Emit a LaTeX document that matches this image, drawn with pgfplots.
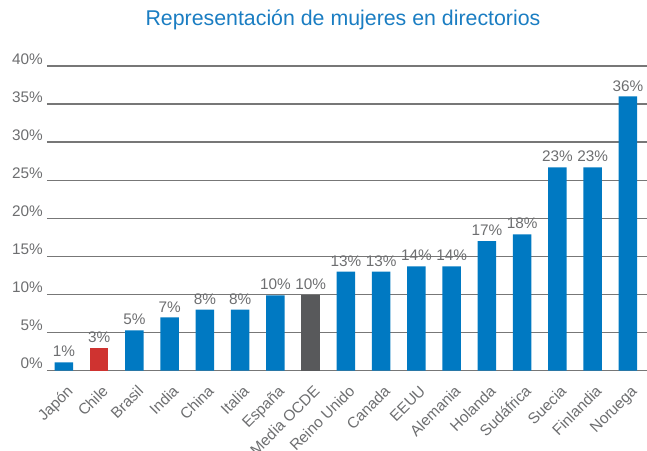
\documentclass[border=0pt]{standalone}
\usepackage{pgfplots}
\pgfplotsset{compat=1.18}
\usepackage{pgfplotstable}
\usepackage{fontspec}
\setmainfont{Liberation Sans}
\definecolor{barblue}{HTML}{0079C2}
\definecolor{barred}{HTML}{CF3330}
\definecolor{bargray}{HTML}{58595B}
\definecolor{textgray}{HTML}{6D6E70}
\definecolor{gridgray}{HTML}{777777}
\definecolor{titleblue}{HTML}{1A7DC2}

\pgfplotstableread{
x y lab
0 1.1 1
2 5.3 5
3 7.0 7
4 8.0 8
5 8.0 8
6 9.9 10
8 13.0 13
9 13.0 13
10 13.7 14
11 13.7 14
12 17.0 17
13 17.9 18
14 26.7 23
15 26.7 23
16 36.0 36
}\bluedata
\pgfplotstableread{
x y lab
1 3.0 3
}\reddata
\pgfplotstableread{
x y lab
7 9.9 10
}\graydata

\begin{document}
\begin{tikzpicture}
\useasboundingbox (-35.25pt,-60.2pt) rectangle (450pt,278pt);
\begin{axis}[
  at={(0,0)}, anchor=south west,
  width=450pt, height=228.5pt, scale only axis,
  xmin=-0.48, xmax=16.54, ymin=0, ymax=40,
  axis line style={draw=none},
  /pgf/number format/assume math mode=true,
  ytick={0,5,...,40},
  yticklabel={\pgfmathprintnumber{\tick}\%},
  ymajorgrids,
  grid style={line width=1.1pt, color=gridgray},
  major tick length=0pt,
  xtick={0,...,16},
  xticklabels={Japón,Chile,Brasil,India,China,Italia,España,Media OCDE,Reino Unido,Canada,EEUU,Alemania,Holanda,Sudáfrica,Suecia,Finlandia,Noruega},
  ticklabel style={color=textgray, font=\fontsize{11.5}{13}\selectfont},
  yticklabel style={anchor=base east, inner sep=0pt, xshift=-3pt, yshift=1.5pt},
  xticklabel style={xshift=7.5pt, yshift=-16pt, rotate=45, anchor=base east, inner sep=0pt},
  point meta=explicit,
  nodes near coords={\pgfmathprintnumber[fixed,precision=0]{\pgfplotspointmeta}\%},
  every node near coord/.append style={anchor=base, inner sep=0pt, yshift=4pt, color=textgray, font=\fontsize{11.5}{13}\selectfont},
  title={Representación de mujeres en directorios},
  title style={at={(0.5,1)}, anchor=base, yshift=24.5pt, xshift=-3pt, inner sep=0pt, font=\fontsize{16}{19}\selectfont, color=titleblue},
]
\addplot[ybar, bar width=13.9pt, fill=barblue, draw=none] table[x=x, y=y, meta=lab] {\bluedata};
\addplot[ybar, bar width=13.9pt, fill=barred, draw=none] table[x=x, y=y, meta=lab] {\reddata};
\addplot[ybar, bar width=13.9pt, fill=bargray, draw=none] table[x=x, y=y, meta=lab] {\graydata};
\end{axis}
\end{tikzpicture}
\end{document}
